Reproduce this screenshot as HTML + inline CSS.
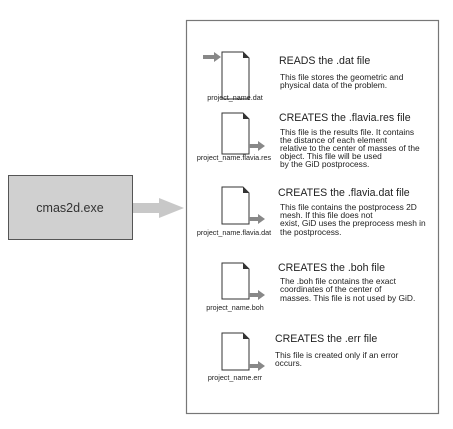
<!DOCTYPE html>
<html><head><style>
body{margin:0;width:453px;height:424px;background:#fff;overflow:hidden}
svg{font-family:"Liberation Sans",Arial,sans-serif}
.h{font-size:10.6px;fill:#222}
.b{font-size:8.4px;fill:#222}
.l{font-size:7.2px;fill:#222}
</style></head><body>
<svg width="453" height="424" viewBox="0 0 453 424">
<rect x="186.5" y="20.5" width="252" height="393" fill="#fff" stroke="#777" stroke-width="1.2"/>
<rect x="8.5" y="175.5" width="124" height="64" fill="#d0d0d0" stroke="#555"/>
<text x="70" y="212" font-size="12.5" text-anchor="middle" fill="#333">cmas2d.exe</text>
<polygon points="133,203 159,203 159,198 184,208 159,218 159,213 133,213" fill="#c8c8c8"/>
<g fill="#fff" stroke="#333" stroke-width="1">
<path d="M222,52 H243 L249,58 V99 H222 Z"/>
<path d="M222,113 H243 L249,119 V154 H222 Z"/>
<path d="M222,187 H243 L249,193 V224 H222 Z"/>
<path d="M222,263 H243 L249,269 V299 H222 Z"/>
<path d="M222,333 H243 L249,339 V370 H222 Z"/>
</g>
<g fill="#333"><path d="M243,52 L249,58 H243Z"/><path d="M243,113 L249,119 H243Z"/><path d="M243,187 L249,193 H243Z"/><path d="M243,263 L249,269 H243Z"/><path d="M243,333 L249,339 H243Z"/></g>
<g fill="#888">
<polygon points="203,55 214,55 214,52 221,57 214,62 214,59 203,59"/>
<polygon points="249,144 258,144 258,141 265,146 258,151 258,148 249,148"/>
<polygon points="249,217 258,217 258,214 265,219 258,224 258,221 249,221"/>
<polygon points="249,293 258,293 258,290 265,295 258,300 258,297 249,297"/>
<polygon points="249,364 258,364 258,361 265,366 258,371 258,368 249,368"/>
</g>
<g class="l" text-anchor="middle">
<text x="235" y="100">project_name.dat</text>
<text x="234" y="160">project_name.flavia.res</text>
<text x="234" y="235">project_name.flavia.dat</text>
<text x="235" y="310">project_name.boh</text>
<text x="235" y="380">project_name.err</text>
</g>
<text class="h" x="279" y="64">READS the .dat file</text>
<text class="b" x="280" y="80">This file stores the geometric and</text>
<text class="b" x="280" y="88">physical data of the problem.</text>
<text class="h" x="279" y="121">CREATES the .flavia.res file</text>
<text class="b" x="280" y="135">This file is the results file. It contains</text>
<text class="b" x="280" y="143">the distance of each element</text>
<text class="b" x="280" y="151">relative to the center of masses of the</text>
<text class="b" x="280" y="159">object. This file will be used</text>
<text class="b" x="280" y="167">by the GiD postprocess.</text>
<text class="h" x="278" y="196">CREATES the .flavia.dat file</text>
<text class="b" x="280" y="210">This file contains the postprocess 2D</text>
<text class="b" x="280" y="218">mesh.  If this file does not</text>
<text class="b" x="280" y="226">exist, GiD uses the preprocess mesh in</text>
<text class="b" x="280" y="235">the postprocess.</text>
<text class="h" x="278" y="271">CREATES the .boh file</text>
<text class="b" x="280" y="284">The .boh file contains the exact</text>
<text class="b" x="280" y="292">coordinates of the center of</text>
<text class="b" x="280" y="301">masses. This file is not used by GiD.</text>
<text class="h" x="275" y="342">CREATES the .err file</text>
<text class="b" x="275" y="358">This file is created only if an error</text>
<text class="b" x="275" y="366">occurs.</text>
</svg>
</body></html>
